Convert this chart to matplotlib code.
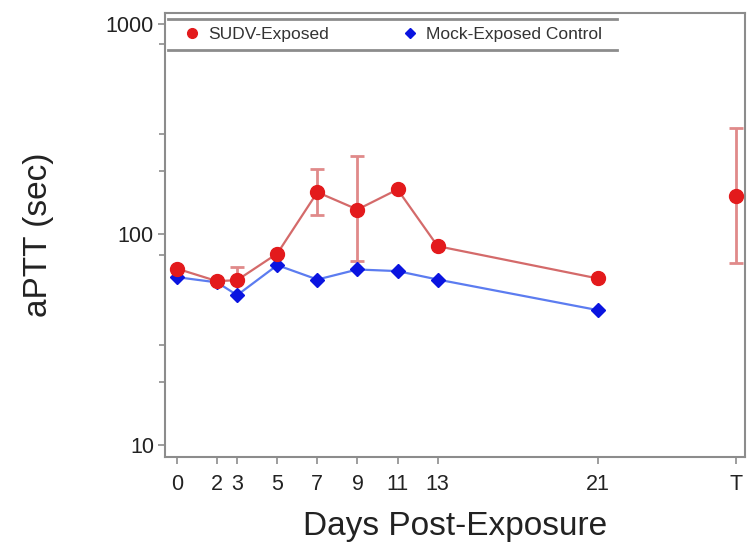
import numpy as np
import matplotlib.pyplot as plt
from matplotlib.lines import Line2D
from matplotlib.ticker import FixedLocator, NullFormatter

plt.rcParams['font.family'] = ['Liberation Sans', 'DejaVu Sans']

# days post-exposure; the terminal sample "T" is put at the far right
days = [0, 2, 3, 5, 7, 9, 11, 13, 21]
t_pos = 27.9
tick_pos = [0, 2, 3, 5, 7, 9, 11, 13, 21, t_pos]
tick_labels = ['0', '2', '3', '5', '7', '9', '11', '13', '21', 'T']

sudv = [68.8, 60.0, 60.7, 81.2, 158.8, 131.4, 163.7, 88.0, 61.8]
sudv_hi = [68.8, 60.0, 70.3, 81.2, 205.0, 237.0, 163.7, 88.0, 61.8]
sudv_lo = [68.8, 60.0, 60.7, 81.2, 123.5, 74.6, 163.7, 88.0, 61.8]
term = 152.0
term_hi = 321.0
term_lo = 73.4

mock = [62.7, 59.2, 51.5, 71.5, 61.1, 68.2, 67.0, 61.1, 43.7]

red = '#e31a1c'
red_line = '#d46a6a'
red_err = '#e08a8a'
blue = '#0a14e0'
blue_line = '#5c7cf0'
grey = '#8c8c8c'

fig = plt.figure(figsize=(7.47, 5.55), dpi=100)
ax = fig.add_axes([0.2209, 0.1766, 0.7764, 0.8000])

yerr = [np.array(sudv) - np.array(sudv_lo), np.array(sudv_hi) - np.array(sudv)]
ax.errorbar(days, sudv, yerr=yerr, fmt='none', ecolor=red_err, elinewidth=2,
            capsize=5, capthick=2, zorder=2)
ax.errorbar([t_pos], [term], yerr=[[term - term_lo], [term_hi - term]], fmt='none',
            ecolor=red_err, elinewidth=2, capsize=5, capthick=2, zorder=2)

ax.plot(days, sudv, color=red_line, linewidth=1.6, zorder=3)
ax.plot(days, mock, color=blue_line, linewidth=1.6, zorder=3)
ax.plot(days, mock, linestyle='none', marker='D', markersize=7, color=blue, zorder=4)
ax.plot(days, sudv, linestyle='none', marker='o', markersize=10, color=red, zorder=5)
ax.plot([t_pos], [term], linestyle='none', marker='o', markersize=10, color=red, zorder=5)

ax.set_yscale('log')
ax.set_ylim(8.77, 1128)
ax.set_xlim(-0.6, 28.33)
ax.set_yticks([10, 100, 1000])
ax.set_yticklabels(['10', '100', '1000'])
ax.yaxis.set_minor_locator(FixedLocator([20, 30, 80, 200, 300, 800]))
ax.yaxis.set_minor_formatter(NullFormatter())
ax.set_xticks(tick_pos)
ax.set_xticklabels(tick_labels)

ax.tick_params(axis='both', which='major', direction='out', length=5, width=1.2,
               color=grey, labelsize=15.5, labelcolor='#222222', pad=3)
ax.tick_params(axis='x', which='major', pad=7)
ax.tick_params(axis='y', which='minor', direction='out', length=4, width=1.2, color=grey)
for s in ax.spines.values():
    s.set_color(grey)
    s.set_linewidth(1.5)

ax.set_xlabel('Days Post-Exposure', fontsize=24, color='#222222', labelpad=12)
ax.set_ylabel('aPTT (sec)', fontsize=24, color='#222222', labelpad=37)

# legend strip along the top with rules above and below
handles = [Line2D([], [], linestyle='none', marker='o', markersize=7, color=red),
           Line2D([], [], linestyle='none', marker='D', markersize=5, color=blue)]
ax.legend(handles, ['SUDV-Exposed', 'Mock-Exposed Control'], loc='upper left',
          bbox_to_anchor=(0.008, 1.003), ncol=2, frameon=False, fontsize=12.5,
          labelcolor='#333333', handletextpad=0.5, columnspacing=4.3, handlelength=0.8)
for yy in (0.9865, 0.9167):
    ax.add_line(Line2D([0.005, 0.779], [yy, yy], transform=ax.transAxes,
                       color=grey, linewidth=2))

fig.savefig('out.png', dpi=100)
